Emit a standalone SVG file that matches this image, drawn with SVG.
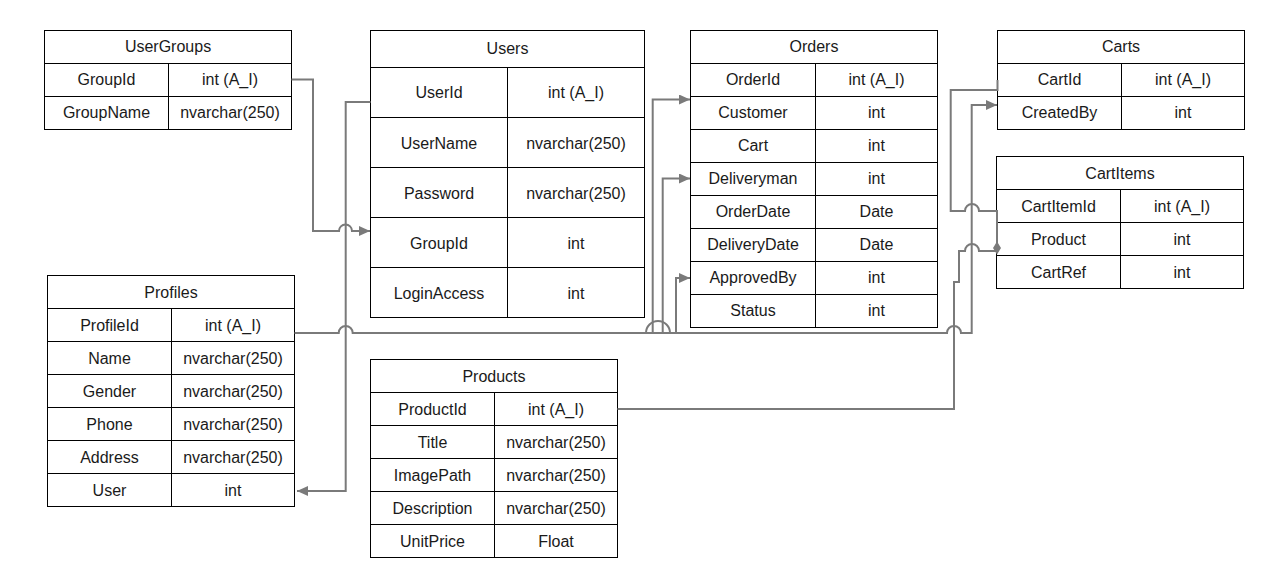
<svg xmlns="http://www.w3.org/2000/svg" width="1282" height="587" viewBox="0 0 1282 587">
<style>
.box{fill:#fff;stroke:#000;stroke-width:1}
.ln{stroke:#000;stroke-width:1;fill:none}
text{font-family:"Liberation Sans",Arial,sans-serif;font-size:16px;fill:#1a1a1a;text-anchor:middle}
.c{fill:none;stroke:#7a7a7a;stroke-width:2}
</style>
<defs>
<marker id="arr" markerUnits="userSpaceOnUse" markerWidth="12" markerHeight="10" refX="11" refY="5" orient="auto">
<path d="M0,0 L11,5 L0,10 z" fill="#7a7a7a"/>
</marker>
</defs>
<rect width="1282" height="587" fill="#fff"/>

<g id="UserGroups">
<rect class="box" x="44.5" y="30.5" width="247" height="99"/>
<path class="ln" d="M44.5,63.5H291.5M44.5,96.5H291.5M168.5,63.5V129.5"/>
<text x="168" y="51.5">UserGroups</text>
<text x="106.5" y="84.5">GroupId</text><text x="230" y="84.5">int (A_I)</text>
<text x="106.5" y="117.5">GroupName</text><text x="230" y="117.5">nvarchar(250)</text>
</g>

<g id="Users">
<rect class="box" x="370.5" y="30.5" width="274" height="287"/>
<path class="ln" d="M370.5,67.5H644.5M370.5,117.5H644.5M370.5,167.5H644.5M370.5,217.5H644.5M370.5,267.5H644.5M507.5,67.5V317.5"/>
<text x="507.5" y="53.5">Users</text>
<text x="439" y="98">UserId</text><text x="576" y="98">int (A_I)</text>
<text x="439" y="148.5">UserName</text><text x="576" y="148.5">nvarchar(250)</text>
<text x="439" y="198.5">Password</text><text x="576" y="198.5">nvarchar(250)</text>
<text x="439" y="248.5">GroupId</text><text x="576" y="248.5">int</text>
<text x="439" y="298.5">LoginAccess</text><text x="576" y="298.5">int</text>
</g>

<g id="Orders">
<rect class="box" x="690.5" y="30.5" width="247" height="297"/>
<path class="ln" d="M690.5,63.5H937.5M690.5,96.5H937.5M690.5,129.5H937.5M690.5,162.5H937.5M690.5,195.5H937.5M690.5,228.5H937.5M690.5,261.5H937.5M690.5,294.5H937.5M815.5,63.5V327.5"/>
<text x="814" y="51.5">Orders</text>
<text x="753" y="84.5">OrderId</text><text x="876.5" y="84.5">int (A_I)</text>
<text x="753" y="117.5">Customer</text><text x="876.5" y="117.5">int</text>
<text x="753" y="150.5">Cart</text><text x="876.5" y="150.5">int</text>
<text x="753" y="183.5">Deliveryman</text><text x="876.5" y="183.5">int</text>
<text x="753" y="216.5">OrderDate</text><text x="876.5" y="216.5">Date</text>
<text x="753" y="249.5">DeliveryDate</text><text x="876.5" y="249.5">Date</text>
<text x="753" y="282.5">ApprovedBy</text><text x="876.5" y="282.5">int</text>
<text x="753" y="315.5">Status</text><text x="876.5" y="315.5">int</text>
</g>

<g id="Carts">
<rect class="box" x="997.5" y="30.5" width="247" height="99"/>
<path class="ln" d="M997.5,63.5H1244.5M997.5,96.5H1244.5M1121.5,63.5V129.5"/>
<text x="1121" y="51.5">Carts</text>
<text x="1059.5" y="84.5">CartId</text><text x="1183" y="84.5">int (A_I)</text>
<text x="1059.5" y="117.5">CreatedBy</text><text x="1183" y="117.5">int</text>
</g>

<g id="CartItems">
<rect class="box" x="996.5" y="156.5" width="247" height="132"/>
<path class="ln" d="M996.5,189.5H1243.5M996.5,222.5H1243.5M996.5,255.5H1243.5M1120.5,189.5V288.5"/>
<text x="1120" y="178.5">CartItems</text>
<text x="1058.5" y="211.5">CartItemId</text><text x="1182" y="211.5">int (A_I)</text>
<text x="1058.5" y="244.5">Product</text><text x="1182" y="244.5">int</text>
<text x="1058.5" y="277.5">CartRef</text><text x="1182" y="277.5">int</text>
</g>

<g id="Profiles">
<rect class="box" x="47.5" y="275.5" width="247" height="231"/>
<path class="ln" d="M47.5,308.5H294.5M47.5,341.5H294.5M47.5,374.5H294.5M47.5,407.5H294.5M47.5,440.5H294.5M47.5,473.5H294.5M171.5,308.5V506.5"/>
<text x="171" y="297.5">Profiles</text>
<text x="109.5" y="330.5">ProfileId</text><text x="233" y="330.5">int (A_I)</text>
<text x="109.5" y="363.5">Name</text><text x="233" y="363.5">nvarchar(250)</text>
<text x="109.5" y="396.5">Gender</text><text x="233" y="396.5">nvarchar(250)</text>
<text x="109.5" y="429.5">Phone</text><text x="233" y="429.5">nvarchar(250)</text>
<text x="109.5" y="462.5">Address</text><text x="233" y="462.5">nvarchar(250)</text>
<text x="109.5" y="495.5">User</text><text x="233" y="495.5">int</text>
</g>

<g id="Products">
<rect class="box" x="370.5" y="359.5" width="247" height="198"/>
<path class="ln" d="M370.5,392.5H617.5M370.5,425.5H617.5M370.5,458.5H617.5M370.5,491.5H617.5M370.5,524.5H617.5M494.5,392.5V557.5"/>
<text x="494" y="381.5">Products</text>
<text x="432.5" y="414.5">ProductId</text><text x="556" y="414.5">int (A_I)</text>
<text x="432.5" y="447.5">Title</text><text x="556" y="447.5">nvarchar(250)</text>
<text x="432.5" y="480.5">ImagePath</text><text x="556" y="480.5">nvarchar(250)</text>
<text x="432.5" y="513.5">Description</text><text x="556" y="513.5">nvarchar(250)</text>
<text x="432.5" y="546.5">UnitPrice</text><text x="556" y="546.5">Float</text>
</g>

<g id="connectors">
<path class="c" d="M291.5,79.5H313V231H339A6.5,6.5 0 0 1 352,231H370" marker-end="url(#arr)"/>
<path class="c" d="M370.5,102H345.7V491H297" marker-end="url(#arr)"/>
<path class="c" d="M388,333H652.7V99.5H690" marker-end="url(#arr)"/>
<path class="c" d="M388,333H662.7V178.5H690" marker-end="url(#arr)"/>
<path class="c" d="M388,333H676V278H690" marker-end="url(#arr)"/>
<path class="c" d="M294.5,333H338.7A7,7 0 0 1 352.7,333H646A12,12 0 0 1 670,333H947A7,7 0 0 1 961,333H971.7V105H997" marker-end="url(#arr)"/>
<path class="c" d="M997.5,80V90H950.7V211H965A7,7 0 0 1 979,211H997V243"/>
<polygon points="997,241.5 1001,248 997,254.5 993,248" fill="#7a7a7a"/>
<path class="c" d="M997,251H979A7,7 0 0 0 965,251H959V282H954V409H617.5"/>
</g>
</svg>
